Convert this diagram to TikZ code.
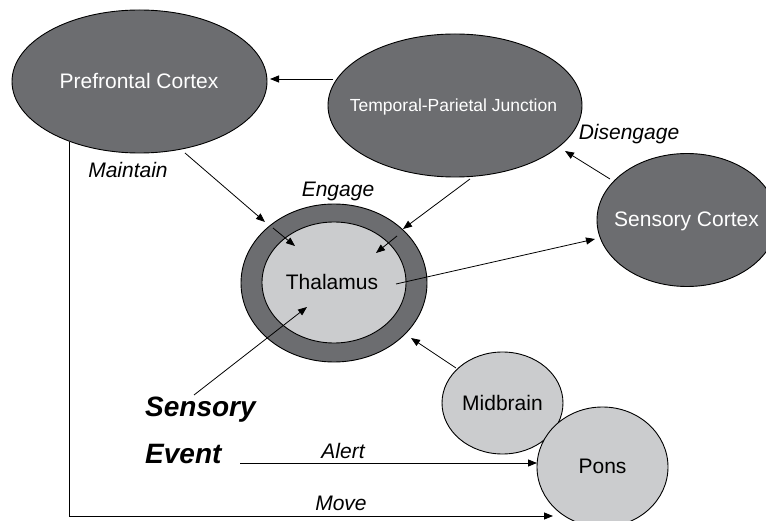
\documentclass[tikz,border=0pt]{standalone}
\usepackage{fontspec}
\setmainfont{Liberation Sans}
\usetikzlibrary{shapes.geometric,arrows.meta,calc}
\definecolor{dk}{RGB}{108,109,112}
\definecolor{lt}{RGB}{203,204,206}
\tikzset{
  region/.style={ellipse,draw=black,line width=0.9pt,inner sep=0pt},
  dkreg/.style={region,fill=dk},
  ltreg/.style={region,fill=lt},
  arr/.style={-{Triangle[length=9pt,width=7pt]},line width=0.8pt},
  wtxt/.style={text=white,font=\fontsize{21}{25}\selectfont,inner sep=0pt,anchor=base},
  stxt/.style={text=white,font=\fontsize{17.5}{21}\selectfont,inner sep=0pt,anchor=base},
  btxt/.style={text=black,font=\fontsize{21}{25}\selectfont,inner sep=0pt,anchor=base},
  lbl/.style={font=\fontsize{21}{25}\selectfont\itshape,inner sep=0pt,anchor=base},
  big/.style={font=\fontsize{28}{32}\selectfont\bfseries\itshape,inner sep=0pt,anchor=base west},
}
\begin{document}
\begin{tikzpicture}[x=1pt,y=-1pt]
\useasboundingbox (0,0) rectangle (766,521);
% regions
\node[dkreg,minimum width=255pt,minimum height=143pt] (pfc) at (139.5,81.5) {};
\node[dkreg,minimum width=254pt,minimum height=143pt] (tpj) at (455,105.5) {};
\node[dkreg,minimum width=180pt,minimum height=133pt] (sc) at (687,220) {};
\node[dkreg,minimum width=186pt,minimum height=158pt] (thalo) at (334,283) {};
\node[ltreg,minimum width=144pt,minimum height=121pt] (thal) at (334,282.5) {};
\node[ltreg,minimum width=121pt,minimum height=102pt] (mid) at (502.5,403) {};
\node[ltreg,minimum width=131pt,minimum height=120pt] (pons) at (602.5,467) {};
% region texts
\node[wtxt] (pfct) at (139,89) {Prefrontal Cortex};
\node[stxt] (tpjt) at (453.5,112) {Temporal-Parietal Junction};
\node[wtxt] (sct) at (686.5,227) {Sensory Cortex};
\node[btxt] (thalt) at (332,290) {Thalamus};
\node[btxt] (midt) at (502.5,410) {Midbrain};
\node[btxt] (ponst) at (602.5,473) {Pons};
% sensory event
\node[big] (sens) at (145,417) {Sensory};
\node[big] (evt) at (145,463) {Event};
% labels
\node[lbl] (lmaintain) at (128,178) {Maintain};
\node[lbl] (lengage) at (338,197) {Engage};
\node[lbl] (ldis) at (629,140) {Disengage};
\node[lbl] (lalert) at (343,458) {Alert};
\node[lbl] (lmove) at (341,510) {Move};
% connectors
\draw[arr] ($(tpj)+(-122,-26.5)$) -- ($(pfc)+(130.5,-2.5)$);
\draw[arr] ($(pfc)+(45.5,71.5)$) -- ($(thalo)+(-69,-61)$);
\draw[arr] ($(thal)+(-61,-54.5)$) -- ($(thal)+(-39,-36.5)$);
\draw[arr] ($(tpj)+(15,73.5)$) -- ($(thalo)+(69,-54)$);
\draw[arr] ($(thal)+(63,-46.5)$) -- ($(thal)+(42,-29.5)$);
\draw[arr] ($(sc)+(-77,-41)$) -- ($(tpj)+(110,45.5)$);
\draw[arr] ($(thal)+(62,1.5)$) -- ($(sc)+(-92,19)$);
\draw[arr] ($(sens.base west)+(49,-22)$) -- ($(thal)+(-27,24.5)$);
\draw[arr] ($(mid)+(-46.5,-35)$) -- ($(thalo)+(77,55)$);
\draw[arr] ($(evt.base west)+(95,0)$) -- ($(pons)+(-65.5,-4)$);
\draw[arr] ($(pfc)+(-70.5,60.5)$) |- ($(pons)+(-49.5,49)$);
\end{tikzpicture}
\end{document}
